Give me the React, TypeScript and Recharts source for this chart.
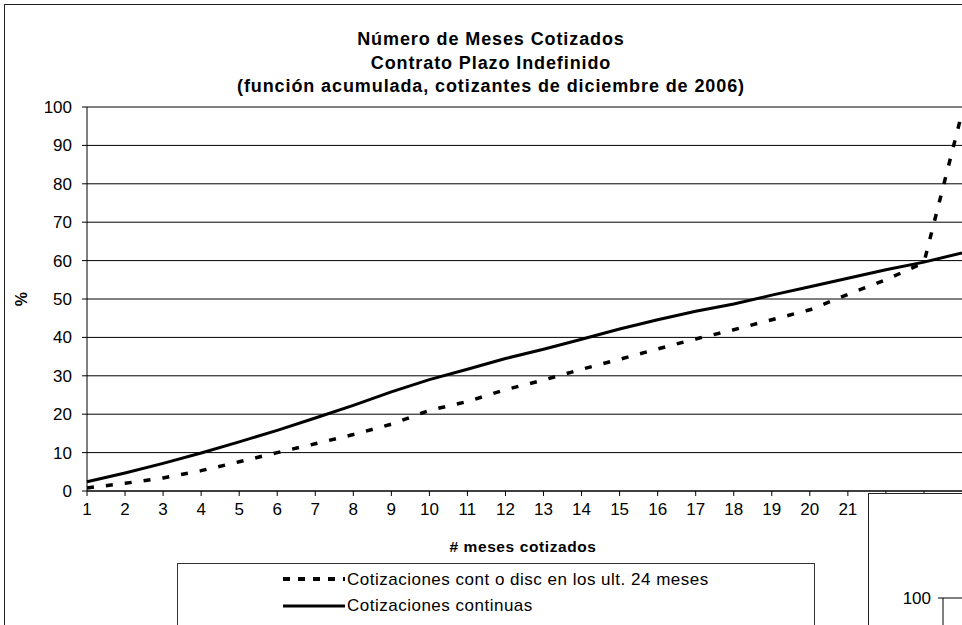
import React from "react";
import { LineChart, Line, XAxis, YAxis, CartesianGrid } from "recharts";

const months = [1, 2, 3, 4, 5, 6, 7, 8, 9, 10, 11, 12, 13, 14, 15, 16, 17, 18, 19, 20, 21, 22, 23, 24];
const continuas = [2.4, 4.7, 7.2, 9.9, 12.8, 15.8, 19.0, 22.3, 25.8, 29.0, 31.7, 34.5, 36.9, 39.5, 42.2, 44.6, 46.8, 48.7, 51.0, 53.2, 55.4, 57.6, 59.6, 62.0];
const contODisc = [0.8, 2.0, 3.4, 5.3, 7.6, 10.0, 12.3, 14.7, 17.4, 21.0, 23.3, 26.4, 28.9, 31.7, 34.3, 37.0, 39.6, 42.0, 44.6, 47.2, 51.2, 55.0, 59.5, 98.5];
const xTicks = [1, 2, 3, 4, 5, 6, 7, 8, 9, 10, 11, 12, 13, 14, 15, 16, 17, 18, 19, 20, 21, 22, 23];
const yTicks = [0, 10, 20, 30, 40, 50, 60, 70, 80, 90, 100];
const titleLines = [
  "Número de Meses Cotizados",
  "Contrato Plazo Indefinido",
  "(función acumulada, cotizantes de diciembre de 2006)",
];
const xTitle = "# meses cotizados";
const yTitle = "%";
const legendDashed = "Cotizaciones cont o disc en los ult. 24 meses";
const legendSolid = "Cotizaciones continuas";
const insetTicks = [100];

const rows = months.map((m, i) => ({ m, continuas: continuas[i], contODisc: contODisc[i] }));

const FONT = '"Liberation Sans", Arial, sans-serif';
const tickStyle = { fontSize: 17, fill: "#000", fontFamily: FONT };

export default function App() {
  return (
    <div style={{ position: "absolute", left: 0, top: 0, width: 962, height: 625, overflow: "hidden", background: "#fff" }}>
      <div style={{ position: "absolute", left: 4, top: 4, width: 1000, height: 1000, border: "1px solid #222", boxSizing: "border-box" }} />
      <div style={{ position: "absolute", left: 0, top: 0 }}>
        <LineChart width={962} height={625} data={rows} margin={{ top: 107, right: 0, bottom: 104, left: 0 }}>
          <CartesianGrid horizontal={true} vertical={false} stroke="#000" strokeWidth={1} />
          <XAxis
            dataKey="m"
            type="number"
            domain={[1, 24]}
            ticks={xTicks}
            interval={0}
            height={30}
            tickSize={5}
            tickMargin={7}
            tick={tickStyle}
            axisLine={{ stroke: "#000" }}
            tickLine={{ stroke: "#000" }}
          />
          <YAxis
            type="number"
            domain={[0, 100]}
            ticks={yTicks}
            interval={0}
            width={87}
            tickSize={5}
            tickMargin={10}
            tick={tickStyle}
            axisLine={{ stroke: "#000" }}
            tickLine={{ stroke: "#000" }}
          />
          <Line type="linear" dataKey="contODisc" stroke="#000" strokeWidth={3.5} strokeDasharray="7 12" dot={false} isAnimationActive={false} />
          <Line type="linear" dataKey="continuas" stroke="#000" strokeWidth={3} dot={false} isAnimationActive={false} />
        </LineChart>
      </div>
      <svg width={962} height={625} style={{ position: "absolute", left: 0, top: 0 }}>
        {titleLines.map((t, i) => (
          <text key={i} x={491} y={45 + i * 23.5} textAnchor="middle" fontFamily={FONT} fontWeight="bold" fontSize={18} letterSpacing={0.9} fill="#000">
            {t}
          </text>
        ))}
        <text x={523} y={552} textAnchor="middle" fontFamily={FONT} fontWeight="bold" fontSize={15.5} letterSpacing={0.6} fill="#000">
          {xTitle}
        </text>
        <text x={27} y={299} textAnchor="middle" fontFamily={FONT} fontWeight="bold" fontSize={16} fill="#000" transform="rotate(-90 27 299)">
          {yTitle}
        </text>
        <rect x={177.5} y={563.5} width={637} height={120} fill="#fff" stroke="#333" strokeWidth={1} />
        <line x1={283} y1={579} x2={345} y2={579} stroke="#000" strokeWidth={4} strokeDasharray="7 8" />
        <text x={347} y={585} fontFamily={FONT} fontSize={17} letterSpacing={0.5} fill="#000">{legendDashed}</text>
        <line x1={283} y1={606} x2={345} y2={606} stroke="#000" strokeWidth={3} />
        <text x={347} y={611} fontFamily={FONT} fontSize={17} letterSpacing={0.5} fill="#000">{legendSolid}</text>
      </svg>
      <div style={{ position: "absolute", left: 868, top: 493, width: 200, height: 200, background: "#fff", borderLeft: "1px solid #222", borderTop: "1px solid #222" }}>
        <LineChart width={94} height={300} data={rows} margin={{ top: 104, right: 0, bottom: 0, left: 0 }}>
          <CartesianGrid horizontal={true} vertical={false} stroke="#000" strokeWidth={1} />
          <XAxis dataKey="m" type="number" domain={[1, 24]} hide />
          <YAxis
            type="number"
            domain={[0, 100]}
            allowDataOverflow
            ticks={insetTicks}
            interval={0}
            width={74}
            tickSize={5}
            tickMargin={7}
            tick={tickStyle}
            axisLine={{ stroke: "#000" }}
            tickLine={{ stroke: "#000" }}
          />
          <Line type="linear" dataKey="continuas" stroke="none" strokeWidth={0} dot={false} isAnimationActive={false} />
        </LineChart>
      </div>
    </div>
  );
}
